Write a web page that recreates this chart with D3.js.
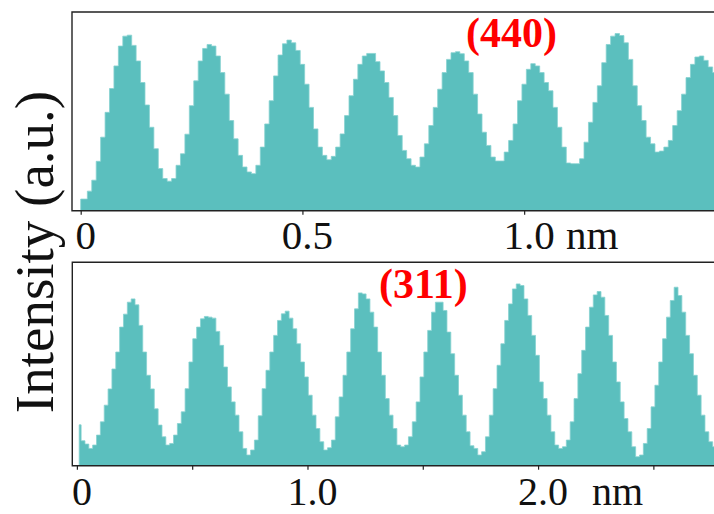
<!DOCTYPE html>
<html>
<head>
<meta charset="utf-8">
<script src="https://cdn.jsdelivr.net/npm/d3@7"></script>
<style>
  html, body { margin: 0; padding: 0; background: #ffffff; }
  svg { display: block; }
</style>
</head>
<body>
<svg id="chart" width="714" height="514"></svg>
<script>
// Line-profile intensities (a.u.), one value per position bin.
const topStart = 0;        // nm, first bin centre
const topStep = 0.01;      // nm per bin
const topIntensity = [
  11.7, 11.7, 19.7, 30.7, 49.7, 74, 99, 123, 145.7, 165.7,
  175.7, 176.7, 166.4, 150.7, 129, 106.4, 84, 62.4, 42.4, 32.4,
  29.7, 32.4, 45.7, 57.3, 77, 105.7, 130.7, 150.7, 163.3, 167.3,
  165.7, 155.7, 139, 117.3, 90.7, 72.3, 55.7, 44, 39, 37.3,
  45.7, 64, 87.3, 110.7, 135.7, 156.7, 168, 171.7, 169, 161.3,
  147.3, 127.3, 104, 82.3, 64, 55.7, 51.3, 54.7, 64, 77.3,
  95.7, 115.7, 132.3, 147.3, 155.7, 158.3, 158.3, 150, 140.7, 129,
  114, 95.7, 75.7, 60.7, 52.3, 45.7, 44, 54, 67.3, 85.7,
  104, 122.3, 139, 152.3, 159, 160, 158, 150.7, 139, 117.3,
  97.3, 79, 65.7, 54, 50, 50, 59, 70.7, 87.3, 110.7,
  127.3, 142.3, 148, 145.7, 139, 129, 120.7, 104, 84, 64,
  48, 47.3, 47.3, 52.3, 69, 89, 109, 125.7, 149, 167.3,
  175.7, 178.3, 176.3, 169, 152.3, 125.7, 105.7, 90.7, 74, 67.3,
  59, 60, 64, 70.7, 85.7, 100.7, 117.3, 134, 147.3, 154.7,
  155.7, 151.3, 144.7, 139
];

const bottomStart = 0.01;  // nm, first bin centre
const bottomStep = 0.0167; // nm per bin
const bottomIntensity = [
  41, 25, 21.7, 17.3, 20.7, 30.7, 44, 60.7, 77, 97,
  114, 139, 152, 164, 167.3, 161.3, 140.7, 114, 90.7, 77,
  57, 40.7, 29, 20.7, 22.3, 30.7, 42.3, 54, 77.3, 104,
  127.3, 139, 147.3, 149.7, 149, 148, 134.7, 120.7, 99, 79,
  64, 50.7, 34, 17.3, 10.7, 15.7, 25.7, 50, 77.3, 95.7,
  114, 130.7, 145.7, 152.3, 155, 148, 137.3, 122.3, 104, 89,
  70.7, 50.7, 37.3, 24, 15.7, 18, 25.7, 49, 69, 90.7,
  114, 137.3, 157.3, 173.3, 172.3, 167.3, 154, 139, 114, 90.7,
  67.3, 50.7, 37.3, 20.7, 19, 20.7, 29, 44, 64, 89,
  114, 135.7, 154, 164, 164, 155.7, 134, 112.3, 90.7, 70.7,
  50.7, 34, 20, 17.3, 10.7, 14, 29, 50.7, 77.3, 100.7,
  122.3, 145.7, 162.3, 177.3, 182.3, 180.7, 167.3, 150.7, 130.7, 110.7,
  84, 67.3, 50.7, 34, 20.7, 17.3, 19, 25.7, 44, 67.3,
  92.3, 115.7, 139, 159, 171.3, 174.7, 169, 150.7, 130.7, 104,
  84, 64, 47.3, 34, 19, 9, 10.7, 22.3, 37.3, 59,
  80.7, 104, 127.3, 149, 165.7, 179, 170.7, 154, 130.7, 112.3,
  90.7, 70.7, 50.7, 34, 24, 19
];

const topTicks = [0, 0.5, 1.0];
const topTickLabels = ["0", "0.5", "1.0"];
const bottomTicks = [0, 0.5, 1.0, 1.5, 2.0, 2.5];
const bottomTickLabels = ["0", "", "1.0", "", "2.0", ""];
const unitLabel = "nm";
const panelTitles = ["(440)", "(311)"];
const yAxisTitle = "Intensity (a.u.)";

const FILL = "#5bbfbe";
const SERIF = "'Liberation Serif', 'Times New Roman', Times, serif";

const svg = d3.select("#chart");

const panels = [
  {
    values: topIntensity, start: topStart, step: topStep,
    left: 72, top: 12, bottom: 210.7, right: 716,
    xDomain: [-0.0196, 1.4326], yMax: 200,
    ticks: topTicks, labels: topTickLabels, fontSize: 41, labelBaseline: 38,
    unitX: 566, title: panelTitles[0], titleX: 466, titleY: 47
  },
  {
    values: bottomIntensity, start: bottomStart, step: bottomStep,
    left: 72.3, top: 262.3, bottom: 465.7, right: 716,
    xDomain: [-0.0199, 2.7716], yMax: 204,
    ticks: bottomTicks, labels: bottomTickLabels, fontSize: 40, labelBaseline: 39.5,
    unitX: 592, title: panelTitles[1], titleX: 379, titleY: 298
  }
];

panels.forEach((p, k) => {
  const x = d3.scaleLinear().domain(p.xDomain).range([p.left, p.right]);
  const y = d3.scaleLinear().domain([0, p.yMax]).range([p.bottom, p.top]);

  const clipId = "clip" + k;
  svg.append("clipPath").attr("id", clipId)
    .append("rect")
    .attr("x", p.left).attr("y", p.top)
    .attr("width", p.right - p.left).attr("height", p.bottom - p.top);

  const pts = p.values.map((v, i) => ({ pos: p.start + i * p.step, v }));

  // stepped profile, value changes midway between bin centres
  const area = d3.area()
    .x(d => x(d.pos))
    .y0(y(0))
    .y1(d => y(d.v))
    .curve(d3.curveStep);

  svg.append("path")
    .datum(pts)
    .attr("clip-path", `url(#${clipId})`)
    .attr("d", area)
    .attr("fill", FILL)
    .attr("stroke", "#86d2d0")
    .attr("stroke-width", 0.8);

  // frame: left, top and bottom edges
  svg.append("path")
    .attr("d", `M${p.right},${p.top}H${p.left}V${p.bottom}H${p.right}`)
    .attr("fill", "none")
    .attr("stroke", "#222")
    .attr("stroke-width", 1.4);

  const axis = d3.axisBottom(x)
    .tickValues(p.ticks)
    .tickSize(4)
    .tickFormat((d, i) => p.labels[i]);

  const g = svg.append("g")
    .attr("transform", `translate(0,${p.bottom})`)
    .call(axis);
  g.select(".domain").remove();
  g.selectAll(".tick line").attr("stroke", "#222").attr("stroke-width", 1.2);
  g.selectAll(".tick text")
    .attr("fill", "#111")
    .attr("font-family", SERIF)
    .attr("font-size", p.fontSize)
    .attr("y", p.labelBaseline)
    .attr("dy", 0)
    .attr("dx", 4.5);

  svg.append("text")
    .attr("x", p.unitX)
    .attr("y", p.bottom + p.labelBaseline)
    .attr("font-family", SERIF)
    .attr("font-size", p.fontSize)
    .attr("fill", "#111")
    .text(unitLabel);

  svg.append("text")
    .attr("x", p.titleX)
    .attr("y", p.titleY)
    .attr("font-family", SERIF)
    .attr("font-weight", "bold")
    .attr("font-size", 42)
    .attr("fill", "#ff0000")
    .text(p.title);
});

svg.append("text")
  .attr("transform", "translate(53,252) rotate(-90)")
  .attr("text-anchor", "middle")
  .attr("font-family", SERIF)
  .attr("font-size", 55)
  .attr("fill", "#111")
  .text(yAxisTitle);
</script>
</body>
</html>
